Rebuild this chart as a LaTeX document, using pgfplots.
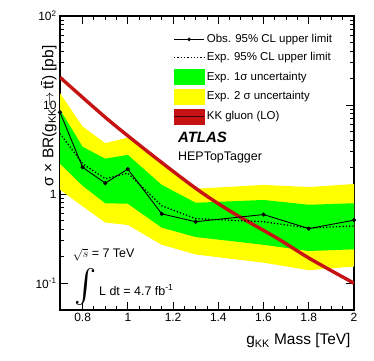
\documentclass[border=0pt]{standalone}
\usepackage{fontspec}
\setmainfont{Liberation Sans}
\usepackage{pgfplots}
\pgfplotsset{compat=1.18}
\definecolor{kkred}{RGB}{198,18,18}
\definecolor{bandgreen}{RGB}{0,255,0}
\definecolor{bandyellow}{RGB}{255,255,0}
\begin{document}
\begin{tikzpicture}
\begin{axis}[
  scale only axis, width=294bp, height=294bp,
  xmin=0.7, xmax=2, ymode=log, ymin=0.05, ymax=100,
  xtick={0.8,1,1.2,1.4,1.6,1.8,2},
  xticklabels={0.8,1,1.2,1.4,1.6,1.8,2},
  minor x tick num=3,
  ytick={0.1,1,10,100},
  yticklabels={10\textsuperscript{-1},1,10,10\textsuperscript{2}},
  tick align=inside, major tick length=8bp, minor tick length=4bp,
  xtick pos=both, ytick pos=both,
  axis line style={line width=1.1pt},
  every tick/.style={black, line width=0.9pt},
  tick label style={font=\fontsize{12}{14}\selectfont},
  xlabel={g\textsubscript{KK} Mass [TeV]},
  xlabel style={at={(axis description cs:1,0)}, anchor=north east, yshift=-20bp, font=\fontsize{15.5}{18}\selectfont},
  ylabel={σ × BR(g\textsubscript{KK}\,$\rightarrow$\,tt̄) [pb]},
  ylabel style={at={(axis description cs:0,1)}, anchor=south east, xshift=-26bp, font=\fontsize{15.5}{18}\selectfont},
  legend style={draw=none, fill=none, at={(axis description cs:0.385,0.945)}, anchor=north west,
    font=\fontsize{11.5}{13}\selectfont, row sep=4.5bp, inner sep=0pt},
  legend cell align=left,
  clip=true,
]
% 2 sigma band
\addplot[fill=bandyellow, draw=none, forget plot] coordinates {
 (0.7,13.6) (0.8,5.75) (0.9,3.74) (1.0,4.3) (1.15,2.3) (1.3,1.15) (1.6,1.27) (1.8,1.2) (2.0,1.3)
 (2.0,0.154) (1.8,0.14) (1.6,0.17) (1.3,0.21) (1.15,0.27) (1.0,0.45) (0.9,0.48) (0.8,0.73) (0.7,1.12)} -- cycle;
% 1 sigma band
\addplot[fill=bandgreen, draw=none, forget plot] coordinates {
 (0.7,8.9) (0.8,3.4) (0.9,2.5) (1.0,2.76) (1.15,1.27) (1.3,0.8) (1.6,0.86) (1.8,0.76) (2.0,0.79)
 (2.0,0.24) (1.8,0.23) (1.6,0.27) (1.3,0.33) (1.15,0.42) (1.0,0.78) (0.9,0.79) (0.8,1.24) (0.7,2.2)} -- cycle;
% KK gluon
\addplot[kkred, line width=3.4pt, smooth, tension=0.5, forget plot] coordinates {
 (0.7,20.5) (0.913,6.84) (1.134,2.43) (1.32,1.07) (1.468,0.61) (1.66,0.32) (1.806,0.188) (2.0,0.1)};
% expected
\addplot[black, dotted, line width=1.3pt, forget plot] coordinates {
 (0.7,4.8) (0.8,2.2) (0.9,1.49) (1.0,1.72) (1.15,0.74) (1.3,0.53) (1.6,0.49) (1.8,0.415) (2.0,0.44)};
% observed
\addplot[black, line width=0.9pt, mark=*, mark size=1.6pt, forget plot] coordinates {
 (0.7,8.3) (0.8,2.0) (0.9,1.33) (1.0,1.91) (1.15,0.60) (1.3,0.49) (1.6,0.59) (1.8,0.41) (2.0,0.51)};

\addlegendimage{legend image code/.code={\draw[black, line width=0.9pt] (0bp,0bp) -- (30bp,0bp); \fill[black] (15bp,0bp) circle (1.6pt);}}
\addlegendentry{Obs. 95\% CL upper limit}
\addlegendimage{legend image code/.code={\draw[black, dotted, line width=1.3pt] (0bp,0bp) -- (30bp,0bp);}}
\addlegendentry{Exp. 95\% CL upper limit}
\addlegendimage{legend image code/.code={\fill[bandgreen] (0bp,-7.5bp) rectangle (30bp,7.5bp);}}
\addlegendentry{Exp. 1σ uncertainty}
\addlegendimage{legend image code/.code={\fill[bandyellow] (0bp,-7.5bp) rectangle (30bp,7.5bp);}}
\addlegendentry{Exp. 2 σ uncertainty}
\addlegendimage{legend image code/.code={\fill[kkred] (0bp,-7.5bp) rectangle (30bp,7.5bp); \draw[black!70!kkred, line width=1.5pt] (0bp,0bp) -- (30bp,0bp);}}
\addlegendentry{KK gluon (LO)}

\node[anchor=west, font=\fontsize{15}{17}\selectfont\bfseries\itshape] at (axis description cs:0.39,0.588) {ATLAS};
\node[anchor=west, font=\fontsize{12.5}{14}\selectfont] at (axis description cs:0.39,0.518) {HEPTopTagger};
\node[anchor=base west, font=\fontsize{12.5}{14}\selectfont, inner sep=0pt] at (axis description cs:0.043,0.177) {$\sqrt{s}$ = 7 TeV};
\node[anchor=base west, font=\fontsize{12.5}{14}\selectfont, inner sep=0pt] at (axis description cs:0.05,0.051) {\raisebox{-10bp}{\resizebox*{!}{37bp}{\raisebox{\depth}{$\int$}}}\,L dt = 4.7 fb\textsuperscript{-1}};
\end{axis}
\pgfresetboundingbox
\path (current axis.south west) ++(-60bp,-51bp) coordinate (bbA);
\path (current axis.north east) ++(20bp,16bp) coordinate (bbB);
\path[use as bounding box] (bbA) rectangle (bbB);
\end{tikzpicture}
\end{document}
